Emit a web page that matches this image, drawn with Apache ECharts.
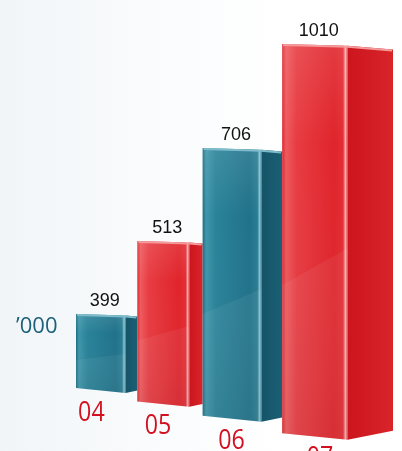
<!DOCTYPE html>
<html>
<head>
<meta charset="utf-8">
<script src="https://cdn.jsdelivr.net/npm/echarts@6/dist/echarts.min.js"></script>
<style>
html,body{margin:0;padding:0;background:#fff;}
#main{width:402px;height:451px;}
</style>
</head>
<body>
<div id="main"></div>
<script>
// ---- data ----
const categories = ['04', '05', '06', '07'];
const values = [399, 513, 706, 1010];
const colorKeys = ['teal', 'red', 'teal', 'red'];
const unitLabel = '\u2019000';

// ---- styles ----
const palettes = {
  teal: {
    front: [[0, '#1d6c82'], [0.06, '#3f96aa'], [0.22, '#2a8399'], [0.8, '#20728a'], [0.93, '#2a7d93'], [0.97, '#8fc6d3'], [1, '#257890']],
    side: [[0, '#155468'], [1, '#1b5f74']],
    topEdge: '#7fbccb'
  },
  red: {
    front: [[0, '#dc2a31'], [0.06, '#ee5a5e'], [0.22, '#e73c42'], [0.8, '#e0242b'], [0.93, '#e32d34'], [0.97, '#f8b3b3'], [1, '#e0303a']],
    side: [[0, '#cc151d'], [1, '#d9242a']],
    topEdge: '#f39a9a'
  }
};

function lg(x0, y0, x1, y1, stops) {
  return new echarts.graphic.LinearGradient(x0, y0, x1, y1,
    stops.map(s => ({ offset: s[0], color: s[1] })));
}

// perspective spread of the category bands
const persp = t => 0.77 * t + 0.23 * Math.pow(t, 4);

function renderItem(params, api) {
  const i = api.value(0), v = api.value(1);
  const cs = params.coordSys;
  const top = api.coord([i, v])[1];
  const gl = cs.x, W = cs.width, gb = cs.y + cs.height;
  const n = categories.length;
  const xL = gl + W * persp(i / n), xR = gl + W * persp((i + 1) / n);
  const tEnd = (i + 1) / n;
  const sf = 0.19 + 0.22 * Math.pow(tEnd, 4);
  const xS = xR - sf * (xR - xL);
  const fw = xS - xL, sw = xR - xS;
  const yBL = gb - 9 + (xL - gl) * 0.22;
  const yBS = yBL + 0.1 * fw;
  const yBR = yBS - 0.2 * sw;
  const yTL = top, yTS = top + 0.03 * fw, yTR = yTS + 0.08 * sw;
  const pal = palettes[colorKeys[i]];
  const h = yBL - yTL;
  const children = [
    { type: 'polygon', shape: { points: [[xL, yTL], [xS, yTS], [xS, yBS], [xL, yBL]] },
      style: { fill: lg(0, 0, 1, 0, pal.front) } },
    { type: 'polygon', shape: { points: [[xS, yTS], [xR, yTR], [xR, yBR], [xS, yBS]] },
      style: { fill: lg(0, 0, 1, 0, pal.side) } },
    // vertical shading
    { type: 'polygon', shape: { points: [[xL, yTL], [xS, yTS], [xS, yBS], [xL, yBL]] },
      style: { fill: lg(0, 0, 0, 1, [[0, 'rgba(255,255,255,0.10)'], [0.25, 'rgba(255,255,255,0.0)'], [1, 'rgba(0,0,0,0.05)']]) } },
    // diagonal reflection
    { type: 'polygon', shape: { points: [[xL, yTL + h * 0.62], [xS, yTS + h * 0.52], [xS, yBS], [xL, yBL]] },
      style: { fill: 'rgba(255,255,255,0.06)' } },
    // top edge
    { type: 'polyline', shape: { points: [[xL + 1, yTL + 1], [xS, yTS + 1], [xR - 1, yTR + 1]] },
      style: { stroke: pal.topEdge, lineWidth: 2, fill: null } },
    // value label
    { type: 'text', style: { text: String(v), x: (xL + xS) / 2 + 4, y: top - 13,
      align: 'center', verticalAlign: 'middle', font: '18px "Liberation Sans", Arial, sans-serif', fill: '#111' } },
    // category label
    { type: 'text', x: xL + fw * (0.31 + 0.09 * i), y: yBL + 25, scaleX: 0.86,
      style: { text: categories[i], x: 0, y: 0,
      align: 'center', verticalAlign: 'middle', font: '27px "Open Sans", sans-serif', fill: '#d3101f' } }
  ];
  return { type: 'group', children };
}

const chart = echarts.init(document.getElementById('main'));
chart.setOption({
  animation: false,
  backgroundColor: lg(0, 0, 1, 0, [[0, '#f1f5f8'], [0.35, '#f9fbfc'], [0.7, '#ffffff'], [1, '#ffffff']]),
  grid: { left: 76, right: 9, top: 19.06, bottom: 54.02 },
  xAxis: { type: 'category', data: categories, show: false },
  yAxis: { type: 'log', logBase: 10, min: 300, max: 1100, show: false },
  graphic: [{
    type: 'text', left: 16, top: 316,
    style: { text: unitLabel, font: '22px "Open Sans", sans-serif', fill: '#1c6079' }
  }],
  series: [{
    type: 'custom',
    renderItem,
    clip: false,
    data: values.map((v, i) => [i, v])
  }]
});
</script>
</body>
</html>
